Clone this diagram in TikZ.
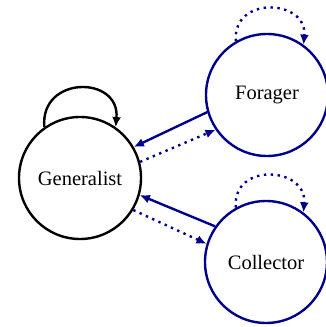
\documentclass[tikz,border=0pt]{standalone}
\usepackage{fontspec}
\setmainfont{Liberation Serif}
\usetikzlibrary{arrows.meta,positioning}
\definecolor{darkblue}{RGB}{0,0,139}

\begin{document}
\begin{tikzpicture}[x=1pt,y=1pt,
	state/.style={circle,draw,line width=2.4pt,minimum size=122pt,inner sep=0pt,font=\fontsize{20.5}{24}\selectfont},
	link/.style={line width=2.4pt,-{Latex[length=10pt,width=9pt]}},
	weak/.style={link,dash pattern=on 2.4pt off 4.5pt}]
	\useasboundingbox (0,0) rectangle (326,327);
	\node [state] (gen) at (80,149) {Generalist};
	\node [state,darkblue,text=black] (for) at (267,232) {Forager};
	\node [state,darkblue,text=black] (col) at (266,65) {Collector};
	\draw [link] (gen.125) .. controls +(95:52) and +(85:52) .. (gen.55);
	\draw [weak,darkblue] (for.120) .. controls +(95:46) and +(85:46) .. (for.54);
	\draw [weak,darkblue] (col.119) .. controls +(95:46) and +(85:46) .. (col.53);
	\draw [link,darkblue] (for.196) -- (gen.30);
	\draw [weak,darkblue] (gen.15) -- (for.214);
	\draw [link,darkblue] (col.145) -- (gen.-16);
	\draw [weak,darkblue] (gen.-31) -- (col.163);
\end{tikzpicture}
\end{document}
